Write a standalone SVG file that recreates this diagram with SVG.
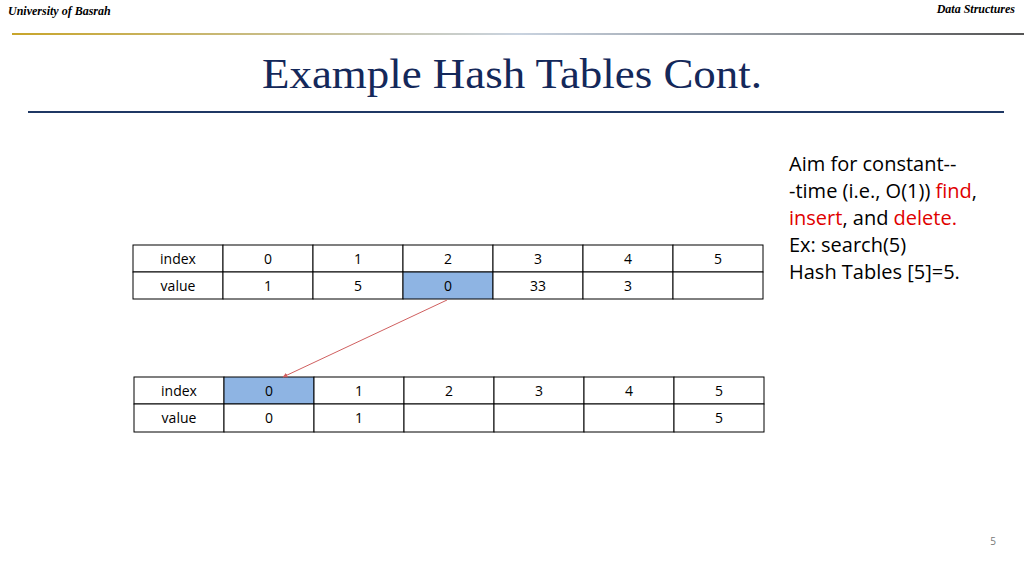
<svg xmlns="http://www.w3.org/2000/svg" width="1024" height="576" viewBox="0 0 1024 576">
<style>
.c{fill:#fff;stroke:#000;stroke-width:1}
.h{fill:#8eb4e3;stroke:#000;stroke-width:1}
.t{font-family:"Open Sans",sans-serif;font-size:14px;text-anchor:middle;fill:#000}
.r{font-family:"Open Sans",sans-serif;font-size:20px;fill:#000}
.red{fill:#e00000}
</style>
<defs>
<linearGradient id="g" x1="0" x2="1"><stop offset="0" stop-color="#c8a52a"/><stop offset="0.5" stop-color="#c9d3e0"/><stop offset="1" stop-color="#555"/></linearGradient>
<marker id="a" viewBox="0 0 10 10" refX="9" refY="5" markerWidth="5" markerHeight="5" orient="auto"><path d="M0,0L10,5L0,10z" fill="#d06060"/></marker>
</defs>
<rect width="1024" height="576" fill="#fff"/>
<text x="8" y="15" font-family="Liberation Serif,serif" font-style="italic" font-weight="bold" font-size="12">University of Basrah</text>
<text x="1015" y="13" font-family="Liberation Serif,serif" font-style="italic" font-weight="bold" font-size="12" text-anchor="end">Data Structures</text>
<rect x="12" y="33" width="1012" height="2" fill="url(#g)"/>
<text x="262" y="88" font-family="Liberation Serif,serif" font-size="42" fill="#14285a" textLength="500" lengthAdjust="spacingAndGlyphs">Example Hash Tables Cont.</text>
<rect x="28" y="111" width="976" height="2" fill="#1f3864"/>
<g id="table1">
<rect class="c" x="133" y="245" width="90" height="27"/><text class="t" x="178" y="264">index</text>
<rect class="c" x="223" y="245" width="90" height="27"/><text class="t" x="268" y="264">0</text>
<rect class="c" x="313" y="245" width="90" height="27"/><text class="t" x="358" y="264">1</text>
<rect class="c" x="403" y="245" width="90" height="27"/><text class="t" x="448" y="264">2</text>
<rect class="c" x="493" y="245" width="90" height="27"/><text class="t" x="538" y="264">3</text>
<rect class="c" x="583" y="245" width="90" height="27"/><text class="t" x="628" y="264">4</text>
<rect class="c" x="673" y="245" width="90" height="27"/><text class="t" x="718" y="264">5</text>
<rect class="c" x="133" y="272" width="90" height="27"/><text class="t" x="178" y="291">value</text>
<rect class="c" x="223" y="272" width="90" height="27"/><text class="t" x="268" y="291">1</text>
<rect class="c" x="313" y="272" width="90" height="27"/><text class="t" x="358" y="291">5</text>
<rect class="h" x="403" y="272" width="90" height="27"/><text class="t" x="448" y="291">0</text>
<rect class="c" x="493" y="272" width="90" height="27"/><text class="t" x="538" y="291">33</text>
<rect class="c" x="583" y="272" width="90" height="27"/><text class="t" x="628" y="291">3</text>
<rect class="c" x="673" y="272" width="90" height="27"/>
</g>
<g id="table2">
<rect class="c" x="134" y="377" width="90" height="27"/><text class="t" x="179" y="396">index</text>
<rect class="h" x="224" y="377" width="90" height="27"/><text class="t" x="269" y="396">0</text>
<rect class="c" x="314" y="377" width="90" height="27"/><text class="t" x="359" y="396">1</text>
<rect class="c" x="404" y="377" width="90" height="27"/><text class="t" x="449" y="396">2</text>
<rect class="c" x="494" y="377" width="90" height="27"/><text class="t" x="539" y="396">3</text>
<rect class="c" x="584" y="377" width="90" height="27"/><text class="t" x="629" y="396">4</text>
<rect class="c" x="674" y="377" width="90" height="27"/><text class="t" x="719" y="396">5</text>
<rect class="c" x="134" y="404" width="90" height="28"/><text class="t" x="179" y="423">value</text>
<rect class="c" x="224" y="404" width="90" height="28"/><text class="t" x="269" y="423">0</text>
<rect class="c" x="314" y="404" width="90" height="28"/><text class="t" x="359" y="423">1</text>
<rect class="c" x="404" y="404" width="90" height="28"/>
<rect class="c" x="494" y="404" width="90" height="28"/>
<rect class="c" x="584" y="404" width="90" height="28"/>
<rect class="c" x="674" y="404" width="90" height="28"/><text class="t" x="719" y="423">5</text>
</g>
<g id="connectors">
<line x1="447" y1="300" x2="283" y2="377" stroke="#d06060" stroke-width="1" marker-end="url(#a)"/>
</g>
<g id="note">
<text class="r" x="789" y="171">Aim for constant--</text>
<text class="r" x="789" y="198">-time (i.e., O(1)) <tspan class="red">find</tspan>,</text>
<text class="r" x="789" y="225"><tspan class="red">insert</tspan>, and <tspan class="red">delete.</tspan></text>
<text class="r" x="789" y="252">Ex: search(5)</text>
<text class="r" x="789" y="279">Hash Tables [5]=5.</text>
</g>
<text x="996" y="545" font-family="Open Sans,sans-serif" font-size="10" fill="#777" text-anchor="end">5</text>
</svg>
